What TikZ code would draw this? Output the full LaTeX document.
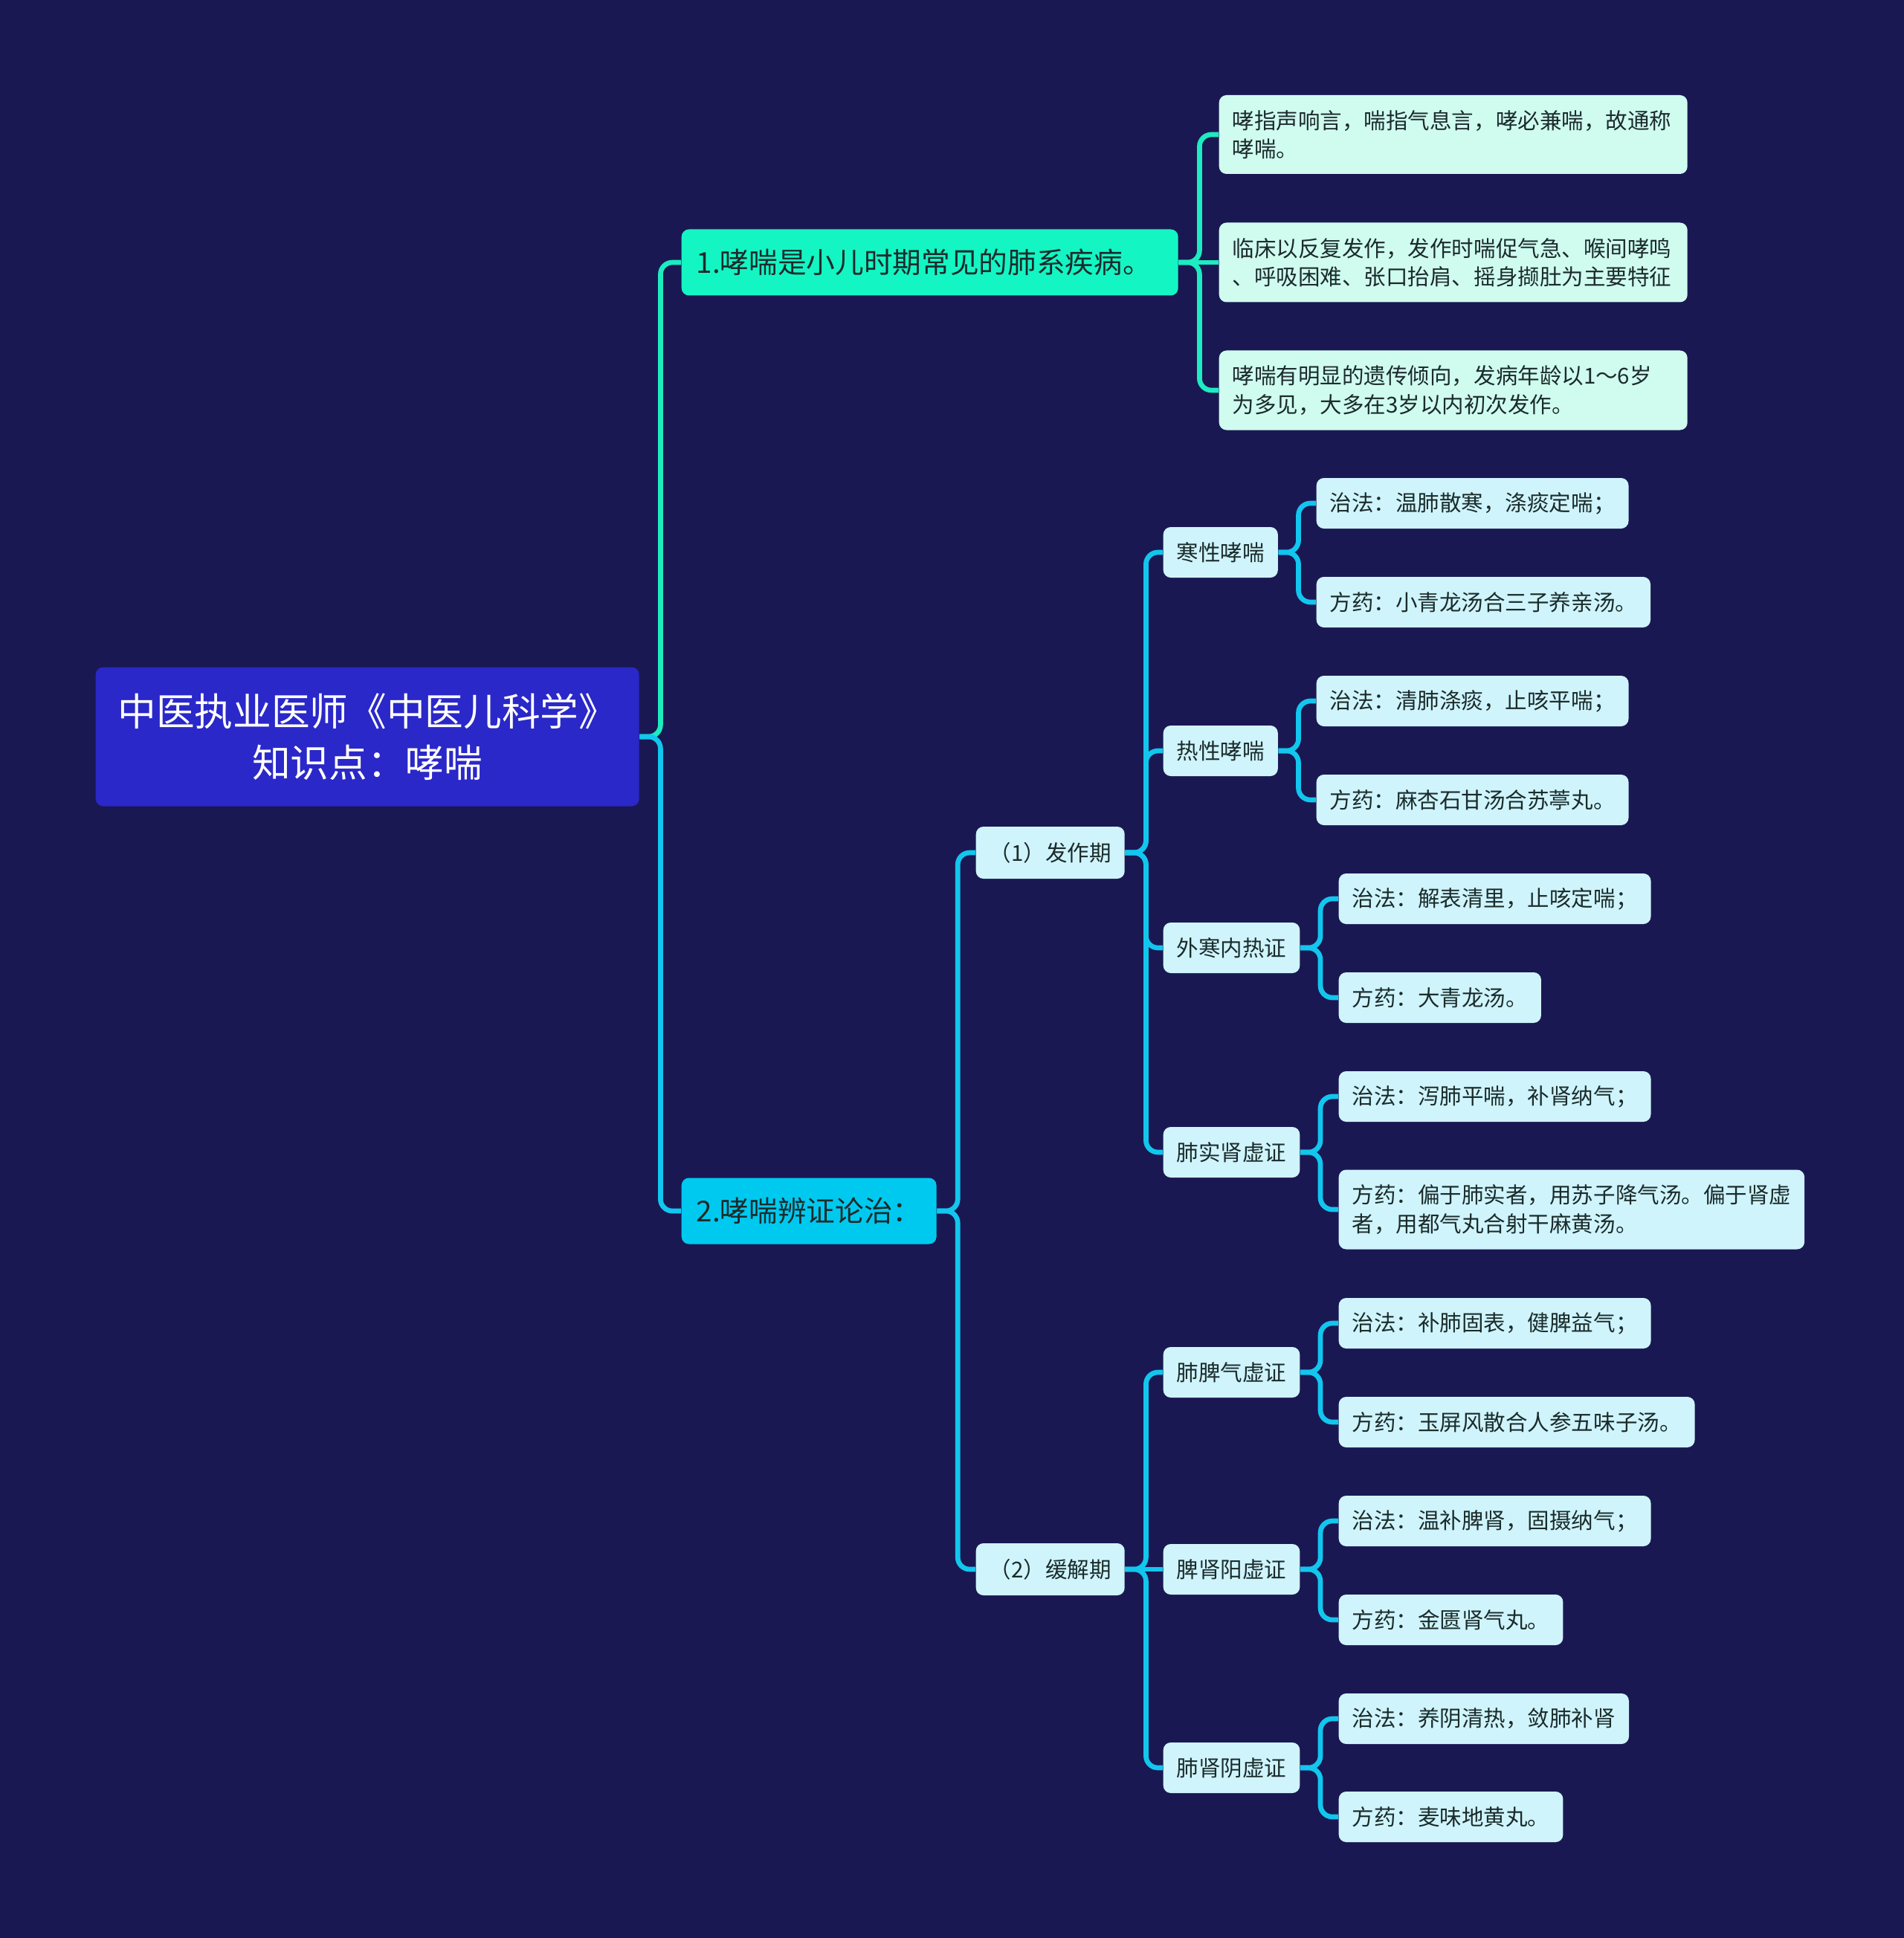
\documentclass[tikz,border=0pt]{standalone}
\usepackage{fontspec}
\setmainfont{Noto Sans CJK SC}
\usepackage{xcolor}
\usepackage{tikz}

\definecolor{bgnavy}{HTML}{1A1852}
\definecolor{rootblue}{HTML}{2A28C8}
\definecolor{topicmint}{HTML}{14F5C4}
\definecolor{topiccyan}{HTML}{00C9F0}
\definecolor{notemint}{HTML}{D0FCF0}
\definecolor{notecyan}{HTML}{CFF4FC}
\definecolor{inkdark}{HTML}{1B2B2B}
\definecolor{wiremint}{HTML}{1DEBC0}
\definecolor{wirecyan}{HTML}{12C6EE}

\begin{document}
\begin{tikzpicture}[
    root/.style={fill=rootblue, rounded corners=0.1cm, text=white, align=center, minimum width=7.31cm, minimum height=1.87cm, inner sep=0pt, font=\fontsize{14.7}{19.6}\selectfont, anchor=west},
    topic/.style={rounded corners=0.1cm, text=inkdark, inner xsep=0.2cm, inner ysep=0pt, minimum height=0.89cm, font=\fontsize{11}{14}\selectfont, anchor=west},
    note/.style={rounded corners=0.1cm, text=inkdark, inner xsep=0.18cm, inner ysep=0pt, minimum height=0.68cm, align=left, font=\fontsize{8.4}{10.9}\selectfont, anchor=west},
    wire/.style={line width=1.9pt, rounded corners=0.16cm}
]
    \useasboundingbox (0,0) rectangle (25.60,-26.07);
    \fill[bgnavy] (-0.1,0.1) rectangle (25.70,-26.17);

    \node[root] (main) at (1.28,-9.91) {中医执业医师《中医儿科学》\\知识点：哮喘};

    \node[topic, fill=topicmint, text width=6.28cm] (intro) at (9.16,-3.53) {1.哮喘是小儿时期常见的肺系疾病。};
    \node[topic, fill=topiccyan] (treat) at (9.16,-16.29) {2.哮喘辨证论治：};

    % first branch notes
    \node[note, fill=notemint, text width=5.94cm, minimum height=1.06cm] (name) at (16.39,-1.81) {哮指声响言，喘指气息言，哮必兼喘，故通称\\哮喘。};
    \node[note, fill=notemint, text width=5.94cm, minimum height=1.07cm] (sign) at (16.39,-3.53) {临床以反复发作，发作时喘促气急、喉间哮鸣\\、呼吸困难、张口抬肩、摇身撷肚为主要特征};
    \node[note, fill=notemint, text width=5.94cm, minimum height=1.07cm] (onset) at (16.39,-5.25) {哮喘有明显的遗传倾向，发病年龄以1～6岁\\为多见，大多在3岁以内初次发作。};

    % stages
    \node[note, fill=notecyan, minimum height=0.70cm] (attack) at (13.12,-11.47) {（1）发作期};
    \node[note, fill=notecyan, minimum height=0.70cm] (remit) at (13.12,-21.11) {（2）缓解期};

    % syndromes
    \node[note, fill=notecyan] (cold) at (15.64,-7.43) {寒性哮喘};
    \node[note, fill=notecyan] (heat) at (15.64,-10.10) {热性哮喘};
    \node[note, fill=notecyan] (mixed) at (15.64,-12.75) {外寒内热证};
    \node[note, fill=notecyan] (lungkid) at (15.64,-15.50) {肺实肾虚证};
    \node[note, fill=notecyan] (lungsp) at (15.64,-18.46) {肺脾气虚证};
    \node[note, fill=notecyan] (spkid) at (15.64,-21.11) {脾肾阳虚证};
    \node[note, fill=notecyan] (yinkid) at (15.64,-23.78) {肺肾阴虚证};

    % methods and formulas
    \node[note, fill=notecyan] (coldA) at (17.70,-6.77) {治法：温肺散寒，涤痰定喘；};
    \node[note, fill=notecyan] (coldB) at (17.70,-8.10) {方药：小青龙汤合三子养亲汤。};
    \node[note, fill=notecyan] (heatA) at (17.70,-9.43) {治法：清肺涤痰，止咳平喘；};
    \node[note, fill=notecyan] (heatB) at (17.70,-10.76) {方药：麻杏石甘汤合苏葶丸。};
    \node[note, fill=notecyan] (mixedA) at (18.00,-12.09) {治法：解表清里，止咳定喘；};
    \node[note, fill=notecyan] (mixedB) at (18.00,-13.42) {方药：大青龙汤。};
    \node[note, fill=notecyan] (lungkidA) at (18.00,-14.75) {治法：泻肺平喘，补肾纳气；};
    \node[note, fill=notecyan, minimum height=1.07cm] (lungkidB) at (18.00,-16.27) {方药：偏于肺实者，用苏子降气汤。偏于肾虚\\者，用都气丸合射干麻黄汤。};
    \node[note, fill=notecyan] (lungspA) at (18.00,-17.80) {治法：补肺固表，健脾益气；};
    \node[note, fill=notecyan] (lungspB) at (18.00,-19.13) {方药：玉屏风散合人参五味子汤。};
    \node[note, fill=notecyan] (spkidA) at (18.00,-20.46) {治法：温补脾肾，固摄纳气；};
    \node[note, fill=notecyan] (spkidB) at (18.00,-21.79) {方药：金匮肾气丸。};
    \node[note, fill=notecyan] (yinkidA) at (18.00,-23.12) {治法：养阴清热，敛肺补肾};
    \node[note, fill=notecyan] (yinkidB) at (18.00,-24.44) {方药：麦味地黄丸。};

    % root to branches
    \draw[wire, wiremint] (main.east) -- ++(0.28,0) |- (intro.west);
    \draw[wire, wirecyan] (main.east) -- ++(0.28,0) |- (treat.west);

    \draw[wire, wiremint] (intro.east) -- ++(0.28,0) |- (name.west);
    \draw[wire, wiremint] (intro.east) -- (sign.west);
    \draw[wire, wiremint] (intro.east) -- ++(0.28,0) |- (onset.west);

    \draw[wire, wirecyan] (treat.east) -- ++(0.28,0) |- (attack.west);
    \draw[wire, wirecyan] (treat.east) -- ++(0.28,0) |- (remit.west);

    % stage to syndrome
    \draw[wire, wirecyan] (attack.east) -- ++(0.28,0) |- (cold.west);
    \draw[wire, wirecyan] (attack.east) -- ++(0.28,0) |- (heat.west);
    \draw[wire, wirecyan] (attack.east) -- ++(0.28,0) |- (mixed.west);
    \draw[wire, wirecyan] (attack.east) -- ++(0.28,0) |- (lungkid.west);
    \draw[wire, wirecyan] (remit.east) -- ++(0.28,0) |- (lungsp.west);
    \draw[wire, wirecyan] (remit.east) -- (spkid.west);
    \draw[wire, wirecyan] (remit.east) -- ++(0.28,0) |- (yinkid.west);

    % syndrome to method / formula
    \draw[wire, wirecyan] (cold.east) -- ++(0.27,0) |- (coldA.west);
    \draw[wire, wirecyan] (cold.east) -- ++(0.27,0) |- (coldB.west);
    \draw[wire, wirecyan] (heat.east) -- ++(0.27,0) |- (heatA.west);
    \draw[wire, wirecyan] (heat.east) -- ++(0.27,0) |- (heatB.west);
    \draw[wire, wirecyan] (mixed.east) -- ++(0.27,0) |- (mixedA.west);
    \draw[wire, wirecyan] (mixed.east) -- ++(0.27,0) |- (mixedB.west);
    \draw[wire, wirecyan] (lungkid.east) -- ++(0.27,0) |- (lungkidA.west);
    \draw[wire, wirecyan] (lungkid.east) -- ++(0.27,0) |- (lungkidB.west);
    \draw[wire, wirecyan] (lungsp.east) -- ++(0.27,0) |- (lungspA.west);
    \draw[wire, wirecyan] (lungsp.east) -- ++(0.27,0) |- (lungspB.west);
    \draw[wire, wirecyan] (spkid.east) -- ++(0.27,0) |- (spkidA.west);
    \draw[wire, wirecyan] (spkid.east) -- ++(0.27,0) |- (spkidB.west);
    \draw[wire, wirecyan] (yinkid.east) -- ++(0.27,0) |- (yinkidA.west);
    \draw[wire, wirecyan] (yinkid.east) -- ++(0.27,0) |- (yinkidB.west);
\end{tikzpicture}
\end{document}
